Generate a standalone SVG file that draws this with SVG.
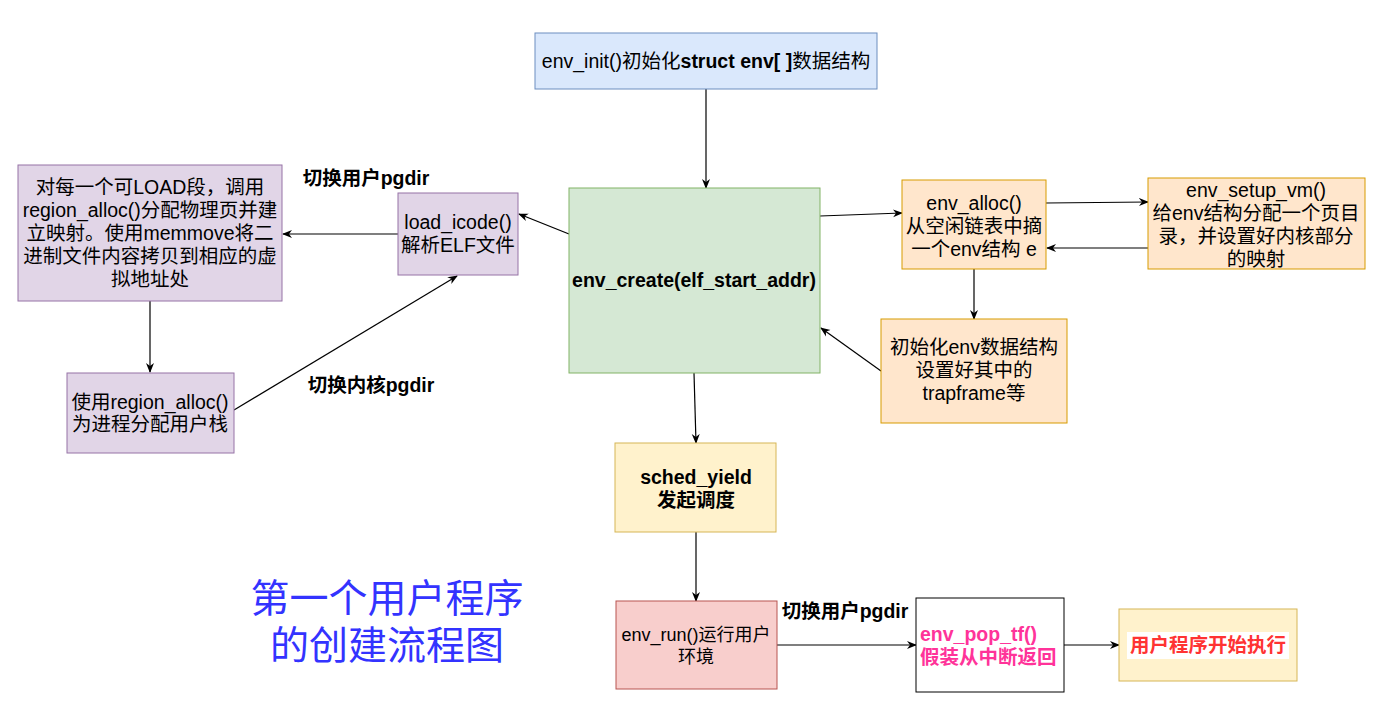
<svg xmlns="http://www.w3.org/2000/svg" width="1382" height="704" viewBox="0 0 1382 704">
<defs>
<marker id="arr" viewBox="0 0 10 10" refX="9" refY="5" markerWidth="10" markerHeight="10" markerUnits="userSpaceOnUse" orient="auto">
<path d="M0,1 L10,5 L0,9 L3,5 z" fill="#000"/>
</marker>
<style>
text{font-family:"Liberation Sans","Noto Sans CJK SC",sans-serif;font-size:19.5px;fill:#000;text-anchor:middle}
.b{font-weight:bold}
.blue rect{fill:#dae8fc;stroke:#6c8ebf}
.green rect{fill:#d5e8d4;stroke:#82b366}
.purple rect{fill:#e1d5e7;stroke:#9673a6}
.orange rect{fill:#ffe6cc;stroke:#d79b00}
.yellow rect{fill:#fff2cc;stroke:#d6b656}
.red rect{fill:#f8cecc;stroke:#b85450}
.edge{stroke:#000;stroke-width:1.2;fill:none;marker-end:url(#arr)}
</style>
</defs>
<rect width="1382" height="704" fill="#fff"/>

<g id="connectors">
<line class="edge" x1="706" y1="89" x2="706" y2="188"/>
<line class="edge" x1="569" y1="234" x2="519" y2="214"/>
<line class="edge" x1="398" y1="234" x2="283" y2="234"/>
<line class="edge" x1="150" y1="301" x2="150" y2="372"/>
<line class="edge" x1="234" y1="410" x2="457" y2="276"/>
<line class="edge" x1="820" y1="216" x2="902" y2="213"/>
<line class="edge" x1="1046" y1="203" x2="1148" y2="202"/>
<line class="edge" x1="1148" y1="248" x2="1047" y2="248"/>
<line class="edge" x1="974" y1="269" x2="974" y2="319"/>
<line class="edge" x1="881" y1="371" x2="821" y2="328"/>
<line class="edge" x1="694" y1="373" x2="696" y2="443"/>
<line class="edge" x1="696" y1="532" x2="696" y2="601"/>
<line class="edge" x1="777" y1="645" x2="916" y2="645"/>
<line class="edge" x1="1064" y1="645" x2="1119" y2="645"/>
<text class="b" x="366" y="185">切换用户pgdir</text>
<text class="b" x="371" y="392">切换内核pgdir</text>
<text class="b" x="845" y="618">切换用户pgdir</text>
</g>

<g id="env_init" class="blue">
<rect x="535" y="33" width="342" height="56"/>
<text x="706" y="68">env_init()初始化<tspan class="b">struct env[ ]</tspan>数据结构</text>
</g>

<g id="env_create" class="green">
<rect x="569" y="188" width="251" height="185"/>
<text class="b" x="694" y="287">env_create(elf_start_addr)</text>
</g>

<g id="load_icode" class="purple">
<rect x="398" y="193" width="120" height="82"/>
<text x="458" y="229">load_icode()</text>
<text x="458" y="252">解析ELF文件</text>
</g>

<g id="load_segments" class="purple">
<rect x="18" y="165" width="264" height="136"/>
<text x="150" y="194">对每一个可LOAD段，调用</text>
<text x="150" y="217">region_alloc()分配物理页并建</text>
<text x="150" y="240">立映射。使用memmove将二</text>
<text x="150" y="263">进制文件内容拷贝到相应的虚</text>
<text x="150" y="286">拟地址处</text>
</g>

<g id="user_stack" class="purple">
<rect x="67" y="373" width="167" height="80"/>
<text x="150" y="409">使用region_alloc()</text>
<text x="150" y="431">为进程分配用户栈</text>
</g>

<g id="env_alloc" class="orange">
<rect x="902" y="180" width="144" height="89"/>
<text x="974" y="210">env_alloc()</text>
<text x="974" y="233">从空闲链表中摘</text>
<text x="974" y="256">一个env结构 e</text>
</g>

<g id="env_setup_vm" class="orange">
<rect x="1148" y="178" width="217" height="91"/>
<text x="1256" y="197">env_setup_vm()</text>
<text x="1256" y="220">给env结构分配一个页目</text>
<text x="1256" y="243">录，并设置好内核部分</text>
<text x="1256" y="266">的映射</text>
</g>

<g id="init_env" class="orange">
<rect x="881" y="319" width="186" height="104"/>
<text x="974" y="354">初始化env数据结构</text>
<text x="974" y="377">设置好其中的</text>
<text x="974" y="400">trapframe等</text>
</g>

<g id="sched_yield" class="yellow">
<rect x="615" y="443" width="161" height="89"/>
<text class="b" x="696" y="484">sched_yield</text>
<text class="b" x="696" y="507">发起调度</text>
</g>

<g id="env_run" class="red">
<rect x="616" y="601" width="161" height="88"/>
<text x="696" y="641" style="font-size:18px">env_run()运行用户</text>
<text x="696" y="663" style="font-size:18px">环境</text>
</g>

<g id="env_pop_tf">
<rect x="916" y="598" width="148" height="94" fill="#fff" stroke="#000"/>
<text class="b" x="920" y="641" style="text-anchor:start;fill:#ff3399">env_pop_tf()</text>
<text class="b" x="920" y="664" style="text-anchor:start;fill:#ff3399">假装从中断返回</text>
</g>

<g id="user_start" class="yellow">
<rect x="1119" y="609" width="178" height="72"/>
<rect x="1127" y="632" width="162" height="27" style="fill:#fff;stroke:none"/>
<text class="b" x="1208" y="652" style="fill:#ff3333">用户程序开始执行</text>
</g>

<g id="title">
<text x="387" y="612" style="font-size:39px;fill:#3333ff">第一个用户程序</text>
<text x="387" y="659" style="font-size:39px;fill:#3333ff">的创建流程图</text>
</g>
</svg>
